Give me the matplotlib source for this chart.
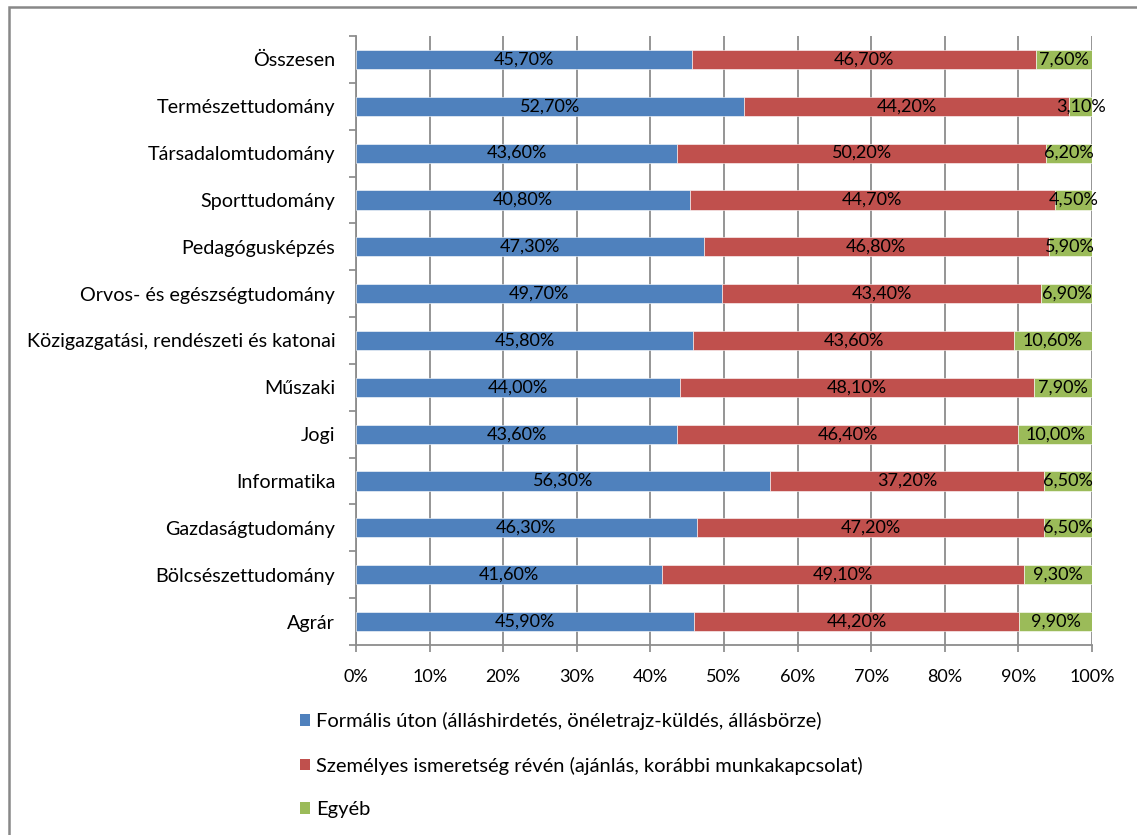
import numpy as np
import matplotlib
matplotlib.use("Agg")
import matplotlib.pyplot as plt
from matplotlib.patches import Rectangle, Patch
from matplotlib.ticker import FixedLocator

plt.rcParams['font.family'] = ['Lato', 'DejaVu Sans']

# categories, top to bottom as in the chart
categories = ["Összesen", "Természettudomány", "Társadalomtudomány", "Sporttudomány",
              "Pedagógusképzés", "Orvos- és egészségtudomány",
              "Közigazgatási, rendészeti és katonai", "Műszaki", "Jogi", "Informatika",
              "Gazdaságtudomány", "Bölcsészettudomány", "Agrár"]
formalis = [45.7, 52.7, 43.6, 40.8, 47.3, 49.7, 45.8, 44.0, 43.6, 56.3, 46.3, 41.6, 45.9]
szemelyes = [46.7, 44.2, 50.2, 44.7, 46.8, 43.4, 43.6, 48.1, 46.4, 37.2, 47.2, 49.1, 44.2]
egyeb = [7.6, 3.1, 6.2, 4.5, 5.9, 6.9, 10.6, 7.9, 10.0, 6.5, 6.5, 9.3, 9.9]

series_names = ["Formális úton (álláshirdetés, önéletrajz-küldés, állásbörze)",
                "Személyes ismeretség révén (ajánlás, korábbi munkakapcsolat)",
                "Egyéb"]
colors = ["#4F81BD", "#C0504D", "#9BBB59"]

data = np.array([formalis, szemelyes, egyeb])
shares = data / data.sum(axis=0)  # 100% stacked

fig = plt.figure(figsize=(11.37, 8.35), dpi=100)
ax = fig.add_axes([356 / 1137, 1 - 645 / 835, (1092 - 356) / 1137, 609 / 835])

n = len(categories)
y = np.arange(n)[::-1]
left = np.zeros(n)
for i in range(3):
    ax.barh(y, shares[i], left=left, height=0.41, color=colors[i],
            edgecolor="white", linewidth=0.4, zorder=3)
    for yy, l, w, v in zip(y, left, shares[i], data[i]):
        ax.text(l + w / 2, yy, f"{v:.2f}%".replace(".", ","), ha="center", va="center",
                fontsize=13, color="black", zorder=4)
    left = left + shares[i]

ax.set_xlim(0, 1)
ax.set_ylim(-0.5, n - 0.5)
ax.set_xticks(np.linspace(0, 1, 11))
ax.set_xticklabels([f"{int(t)}%" for t in range(0, 101, 10)], fontsize=13)
ax.set_yticks(y)
ax.set_yticklabels(categories, fontsize=14.2)
ax.yaxis.set_minor_locator(FixedLocator(np.arange(-0.5, n, 1)))
ax.tick_params(axis="y", which="major", length=0, pad=15)
ax.tick_params(axis="y", which="minor", length=5, color="#888888", width=1.2)
ax.tick_params(axis="x", length=5, color="#888888", width=1.2, pad=12)

ax.grid(axis="x", color="#8c8c8c", linewidth=1.3, zorder=0)
ax.set_axisbelow(True)
for s in ["top", "right"]:
    ax.spines[s].set_visible(False)
for s in ["left", "bottom"]:
    ax.spines[s].set_color("#8c8c8c")
    ax.spines[s].set_linewidth(1.3)

handles = [Patch(facecolor=c, edgecolor="none") for c in colors]
fig.legend(handles, series_names, loc="upper left", bbox_to_anchor=(292 / 1137, 1 - 704 / 835),
           frameon=False, fontsize=14.5, handlelength=0.5, handleheight=0.5,
           handletextpad=0.3, labelspacing=1.32, borderaxespad=0)

# chart area border
fig.patches.append(Rectangle((9 / 1137, -0.1), 1.2, 1 - 7 / 835 + 0.1, transform=fig.transFigure,
                             fill=False, edgecolor="#888888", linewidth=1.8))

fig.savefig("out.png", dpi=100)
